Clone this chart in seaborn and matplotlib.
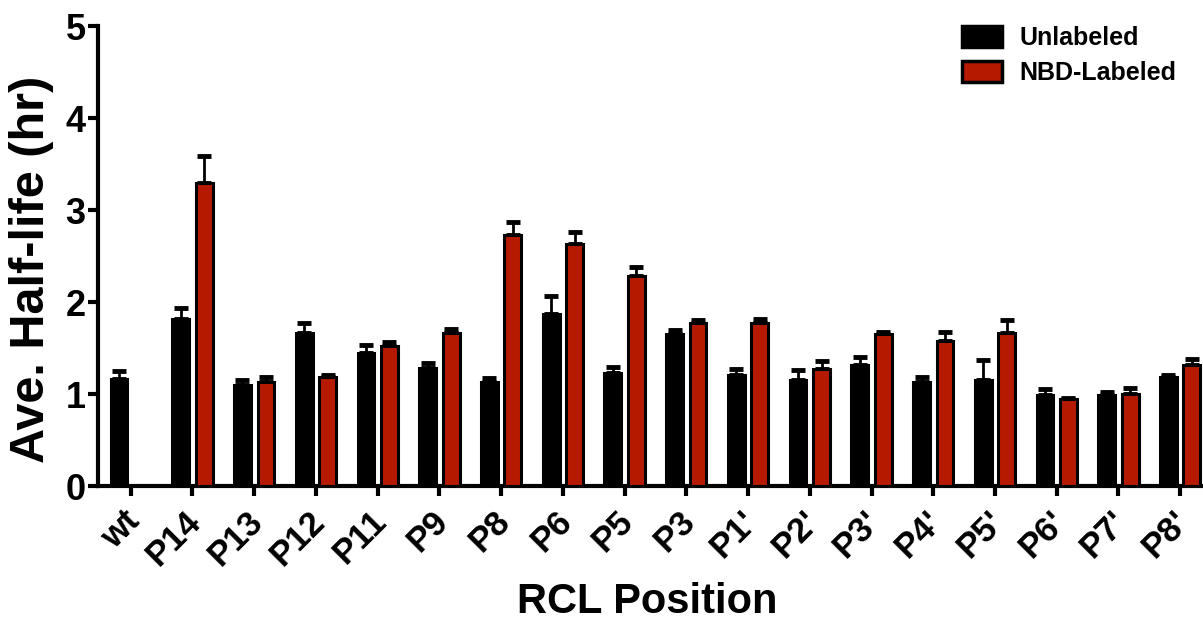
import matplotlib
matplotlib.use("Agg")
import matplotlib.pyplot as plt
import matplotlib.transforms as mtransforms
import numpy as np
import pandas as pd
import seaborn as sns

#%% Data
positions = ['wt', 'P14', 'P13', 'P12', 'P11', 'P9', 'P8', 'P6', 'P5', 'P3',
             "P1'", "P2'", "P3'", "P4'", "P5'", "P6'", "P7'", "P8'"]

unlabeled = [1.16, 1.81, 1.10, 1.66, 1.45, 1.28, 1.13, 1.87, 1.23, 1.65,
             1.21, 1.155, 1.31, 1.13, 1.15, 0.99, 0.99, 1.18]
unlabeled_err = [0.09, 0.13, 0.05, 0.11, 0.08, 0.06, 0.04, 0.19, 0.06, 0.05,
                 0.06, 0.11, 0.09, 0.05, 0.22, 0.06, 0.03, 0.03]

nbd_labeled = [np.nan, 3.29, 1.13, 1.19, 1.52, 1.66, 2.73, 2.63, 2.28, 1.77,
               1.77, 1.275, 1.65, 1.58, 1.665, 0.95, 1.00, 1.32]
nbd_labeled_err = [np.nan, 0.30, 0.05, 0.02, 0.05, 0.05, 0.14, 0.13, 0.10, 0.03,
                   0.04, 0.08, 0.02, 0.09, 0.135, 0.01, 0.07, 0.06]

groups = ['Unlabeled', 'NBD-Labeled']
colors = ['black', '#b51a00']

data = pd.concat([
    pd.DataFrame({'pos': positions, 'half_life': unlabeled, 'err': unlabeled_err, 'group': groups[0]}),
    pd.DataFrame({'pos': positions, 'half_life': nbd_labeled, 'err': nbd_labeled_err, 'group': groups[1]}),
], ignore_index=True)

#%% Figure
sns.set_style("ticks")
plt.rcParams['font.family'] = ['Liberation Sans', 'DejaVu Sans']
plt.rcParams['font.weight'] = 'bold'
for key in ['text.color', 'axes.labelcolor', 'xtick.color', 'ytick.color', 'axes.edgecolor']:
    plt.rcParams[key] = 'black'

fig = plt.figure(figsize=(12.03, 6.25), dpi=100)
ax = fig.add_axes([0.0815, 0.2224, 0.9185, 0.736])

sns.barplot(data=data, x='pos', y='half_life', hue='group', order=positions,
            hue_order=groups, palette=colors, saturation=1, width=0.76, gap=0.28,
            errorbar=None, edgecolor='black', linewidth=2.2, ax=ax, zorder=3)

# upward-only error bars on top of each bar (missing bars are skipped by seaborn)
for container, grp in zip(ax.containers, groups):
    sub = data[data['group'] == grp].set_index('pos').loc[positions].dropna()
    xs = np.array([p.get_x() + p.get_width() / 2 for p in container.patches])
    ys = sub['half_life'].values
    es = sub['err'].values
    ax.errorbar(xs, ys, yerr=[np.zeros(len(es)), es],
                fmt='none', ecolor='black', elinewidth=2, capsize=5, capthick=3.5,
                zorder=2)

ax.set_ylim(0, 5)
ax.set_yticks(np.arange(0, 6, 1))
ax.set_xlim(-0.53, 17.37)

ax.set_ylabel('Ave. Half-life (hr)', fontsize=35, fontweight='bold')
ax.yaxis.set_label_coords(-0.040, 0.472)
ax.set_xlabel('RCL Position', fontsize=30, fontweight='bold')
ax.xaxis.set_label_coords(0.497, -0.209)

ax.tick_params(axis='both', width=3, length=7, direction='out', pad=2)
ax.tick_params(axis='y', labelsize=26)
ax.tick_params(axis='x', labelsize=25)
shift = mtransforms.ScaledTranslation(-0.08, -0.06, fig.dpi_scale_trans)
for lab in ax.get_xticklabels():
    lab.set_rotation(45)
    lab.set_ha('right')
    lab.set_rotation_mode('anchor')
    lab.set_fontweight('bold')
    lab.set_transform(lab.get_transform() + shift)
plt.setp(ax.get_yticklabels(), fontweight='bold')

for side in ['left', 'bottom']:
    ax.spines[side].set_linewidth(3)
sns.despine(ax=ax)

leg = ax.legend(loc='upper left', bbox_to_anchor=(962 / 1203, 1 - 26 / 625),
                bbox_transform=fig.transFigure, frameon=False, borderpad=0,
                borderaxespad=0, prop={'size': 18, 'weight': 'bold'},
                handlelength=1.6, handleheight=0.9, labelspacing=0.45,
                handletextpad=0.7)
for h in leg.legend_handles:
    h.set_edgecolor('black')
    h.set_linewidth(2.5)

fig.savefig('out.png', dpi=100)
